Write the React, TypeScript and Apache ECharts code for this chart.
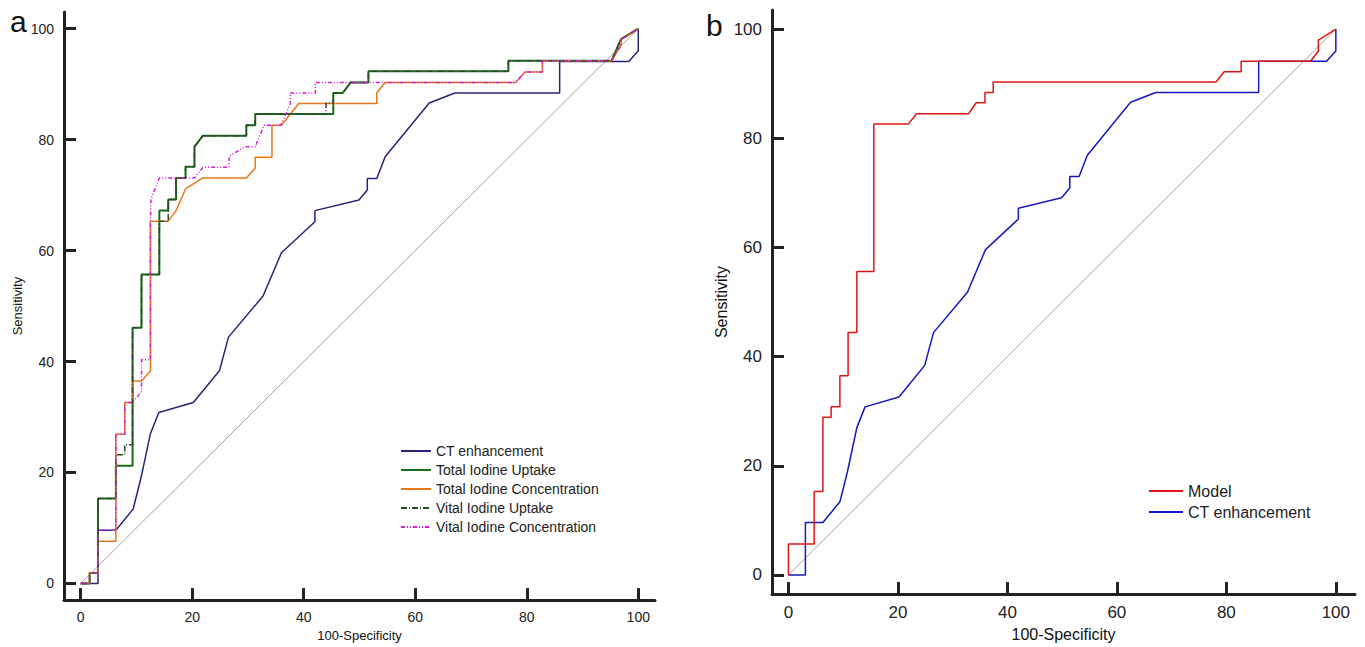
import { useEffect, useRef } from "react";
import * as echarts from "echarts";

// [100-Specificity, Sensitivity] points
const ctEnhancement = [
  [0, 0], [3.1, 0], [3.1, 9.6], [6.3, 9.6], [9.4, 13.4], [10.8, 19], [12.5, 27], [14, 30.8],
  [20.2, 32.6], [24.9, 38.4], [26.5, 44.4], [32.7, 51.8], [36, 59.6], [42, 65.2], [42, 67.2],
  [49.9, 69.1], [51.4, 70.9], [51.4, 73], [53.1, 73], [54.6, 76.9], [62.5, 86.6], [67.1, 88.4],
  [85.9, 88.4], [85.9, 94.1], [98.3, 94.1], [100, 96], [100, 100],
];
const totalIodineUptake = [
  [0, 0], [1.6, 0], [1.6, 1.9], [3.1, 1.9], [3.1, 15.3], [6.3, 15.3], [6.3, 21.2], [9.3, 21.2],
  [9.3, 46.1], [10.9, 46.1], [10.9, 55.7], [14.1, 55.7], [14.1, 67.2], [15.7, 67.2], [15.7, 69.2],
  [17.1, 69.2], [17.1, 73.1], [18.8, 73.1], [18.8, 75.1], [20.4, 75.1], [20.4, 78.7], [21.9, 80.7],
  [29.7, 80.7], [29.7, 82.6], [31.3, 82.6], [31.3, 84.6], [45.3, 84.6], [45.3, 88.4], [47, 88.4],
  [48.4, 90.3], [51.6, 90.3], [51.6, 92.3], [76.7, 92.3], [76.7, 94.2], [95.2, 94.2], [96.9, 98.1],
  [100, 100],
];
const totalIodineConcentration = [
  [0, 0], [1.6, 0], [1.6, 1.9], [3.1, 1.9], [3.1, 7.6], [6.3, 7.6], [6.3, 26.9], [7.9, 26.9],
  [7.9, 32.6], [9.3, 32.6], [9.3, 36.5], [10.9, 36.5], [12.5, 38.3], [12.5, 65.3], [15.7, 65.3],
  [17.1, 67.2], [18.8, 71.1], [21.9, 73.1], [29.7, 73.1], [31.3, 74.9], [31.3, 76.8], [34.3, 76.8],
  [34.3, 82.6], [36, 82.6], [37.6, 84.6], [39.1, 86.5], [53.1, 86.5], [53.1, 88.4], [54.6, 90.3],
  [78, 90.3], [79.7, 92.2], [82.8, 92.2], [82.8, 94.2], [95.2, 94.2], [96.9, 97], [97, 98.1],
  [100, 100],
];
const vitalIodineUptake = [
  [0, 0], [1.6, 0], [1.6, 1.9], [3.1, 1.9], [3.1, 15.3], [6.3, 15.3], [6.3, 23.2], [7.9, 23.2],
  [7.9, 25], [9.3, 25], [9.3, 46.1], [10.9, 46.1], [10.9, 55.7], [14.1, 55.7], [14.1, 65.3],
  [15.7, 65.3], [15.7, 69.2], [17.1, 69.2], [17.1, 73.1], [18.8, 73.1], [18.8, 75.1], [20.4, 75.1],
  [20.4, 78.7], [21.9, 80.7], [29.7, 80.7], [29.7, 82.6], [31.3, 82.6], [31.3, 84.6], [44, 84.6],
  [44, 86.6], [45.3, 86.6], [45.3, 88.4], [47, 88.4], [48.4, 90.3], [51.6, 90.3], [51.6, 92.3],
  [76.7, 92.3], [76.7, 94.2], [95.2, 94.2], [96.9, 98.1], [100, 100],
];
const vitalIodineConcentration = [
  [0, 0], [1.6, 0], [1.6, 1.9], [3.1, 1.9], [3.1, 9.6], [6.3, 9.6], [6.3, 26.9], [7.9, 26.9],
  [7.9, 32.6], [9.3, 32.6], [10.9, 34.6], [10.9, 40.3], [12.5, 40.3], [12.5, 65.3], [12.6, 69.3],
  [14.1, 73.1], [20.4, 73.1], [21.9, 75], [26.6, 75], [26.6, 77], [29.5, 78.7], [31.3, 78.7],
  [32.9, 82.6], [35.9, 82.6], [37.6, 86.5], [37.6, 88.4], [42.1, 88.4], [42.1, 90.3], [78, 90.3],
  [79.7, 92.2], [82.8, 92.2], [82.8, 94.2], [95.2, 94.2], [96.9, 97], [97, 98.1], [100, 100],
];
const model = [
  [0, 0], [0, 5.7], [4.7, 5.7], [4.7, 15.3], [6.3, 15.3], [6.3, 28.9], [7.8, 28.9], [7.8, 30.8],
  [9.4, 30.8], [9.4, 36.5], [10.9, 36.5], [10.9, 44.4], [12.5, 44.4], [12.5, 55.6], [15.6, 55.6],
  [15.6, 82.6], [21.9, 82.6], [23.4, 84.5], [32.9, 84.5], [34.3, 86.5], [35.9, 86.5], [35.9, 88.4],
  [37.4, 88.4], [37.4, 90.3], [78.1, 90.3], [79.6, 92.2], [82.7, 92.2], [82.7, 94.1], [95.4, 94.1],
  [96.8, 96], [96.8, 98], [100, 100],
];
const reference = [[0, 0], [100, 100]];
const tickValues = [0, 20, 40, 60, 80, 100];

const FONT = "Liberation Sans, Arial, sans-serif";

function axis(gridIndex: number, min: number, max: number, name: string, vertical: boolean, nameSize: number) {
  return {
    type: "value",
    gridIndex,
    min,
    max,
    name,
    nameLocation: "middle",
    nameGap: vertical ? 40 : 26,
    nameTextStyle: { fontFamily: FONT, fontSize: nameSize, color: "#111" },
    axisLine: { show: true, onZero: false, lineStyle: { color: "#222", width: 3 } },
    axisTick: { show: true, inside: true, length: 12, lineStyle: { color: "#222", width: 3 }, customValues: tickValues },
    axisLabel: { fontFamily: FONT, fontSize: nameSize + 1, color: "#222", margin: 10, customValues: tickValues },
    splitLine: { show: false },
  };
}

function line(name: string | undefined, data: number[][], color: string, idx: number, width = 1.5, type: any = "solid") {
  return {
    type: "line",
    name,
    data,
    xAxisIndex: idx,
    yAxisIndex: idx,
    showSymbol: false,
    symbol: "none",
    lineStyle: { color, width, type },
    itemStyle: { color },
    silent: true,
  };
}

export default function App() {
  const chartRef = useRef(null);

  useEffect(() => {
    const chart = echarts.init(chartRef.current, null, { renderer: "svg" });

    chart.setOption({
      animation: false,
      backgroundColor: "#fff",
      grid: [
        { left: 64, right: 710, top: 12, bottom: 45 },
        { left: 772, right: 10, top: 10, bottom: 51 },
      ],
      xAxis: [
        axis(0, -3, 103, "100-Specificity", false, 13),
        axis(1, -3, 103.5, "100-Specificity", false, 16),
      ],
      yAxis: [
        axis(0, -3, 103, "Sensitivity", true, 13),
        axis(1, -3.5, 103.5, "Sensitivity", true, 16),
      ],
      legend: [
        {
          orient: "vertical",
          left: 395,
          top: 439,
          itemWidth: 30,
          itemHeight: 10,
          itemGap: 5,
          itemStyle: { opacity: 0 },
          textStyle: { fontFamily: FONT, fontSize: 14, color: "#222" },
          data: [
            "CT enhancement",
            "Total Iodine Uptake",
            "Total Iodine Concentration",
            "Vital Iodine Uptake",
            "Vital Iodine Concentration",
          ],
        },
        {
          orient: "vertical",
          left: 1143,
          top: 478,
          itemWidth: 34,
          itemHeight: 10,
          itemGap: 5,
          itemStyle: { opacity: 0 },
          textStyle: { fontFamily: FONT, fontSize: 16, color: "#222" },
          data: ["Model", "CT enhancement "],
        },
      ],
      graphic: [
        { type: "text", left: 10, top: 6, style: { text: "a", font: `30px ${FONT}`, fill: "#111" } },
        { type: "text", left: 706, top: 10, style: { text: "b", font: `30px ${FONT}`, fill: "#111" } },
      ],
      series: [
        line(undefined, reference, "#b49a9a", 0, 1),
        line("CT enhancement", ctEnhancement, "#25257a", 0),
        line("Total Iodine Uptake", totalIodineUptake, "#1b6b1b", 0, 2),
        line("Total Iodine Concentration", totalIodineConcentration, "#e8761b", 0),
        line("Vital Iodine Uptake", vitalIodineUptake, "#2a4a2a", 0, 1.5, [6, 2, 1, 2]),
        line("Vital Iodine Concentration", vitalIodineConcentration, "#d21fd2", 0, 1.5, [4, 2, 1, 2, 1, 2]),
        line(undefined, reference, "#b49a9a", 1, 1),
        line("CT enhancement ", ctEnhancement, "#1717c0", 1),
        line("Model", model, "#e01515", 1),
      ],
    });

    return () => {
      chart.dispose();
    };
  }, []);

  return <div ref={chartRef} style={{ position: "absolute", left: 0, top: 0, width: 1365, height: 647 }} />;
}
